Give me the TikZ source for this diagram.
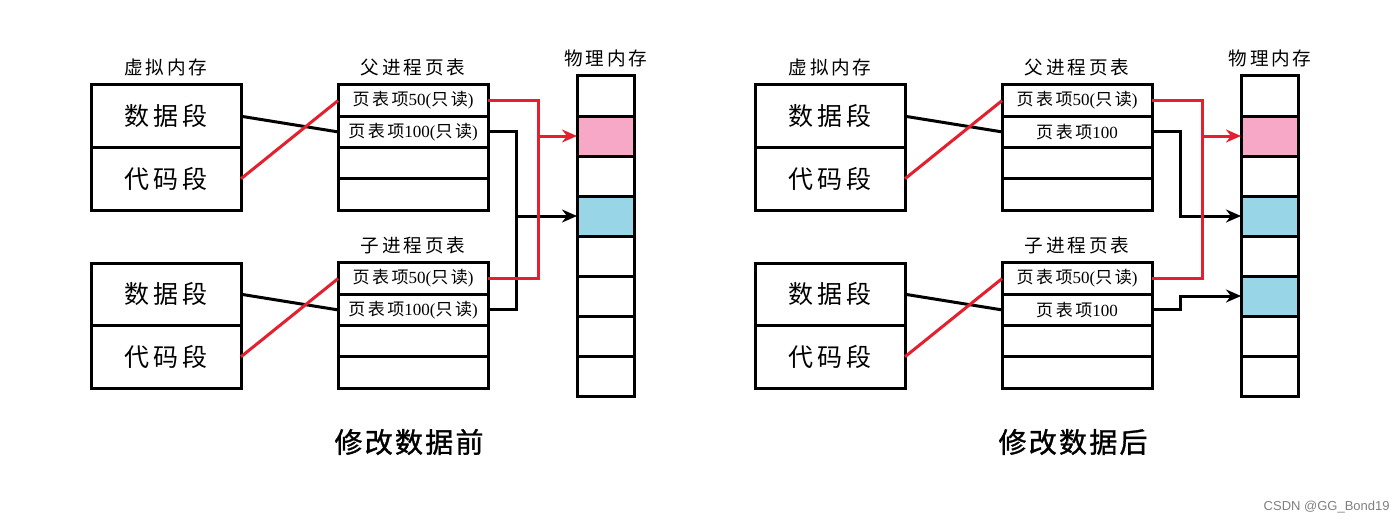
\documentclass[tikz,border=0pt]{standalone}
\usepackage{fontspec}
\setmainfont{Liberation Serif}
\newfontfamily\cjk[LetterSpace=15]{Noto Sans CJK SC}
\newfontfamily\cjkcap[LetterSpace=8,FakeBold=1.2]{Noto Sans CJK SC}
\newfontfamily\wmfont{Liberation Sans}
\usetikzlibrary{arrows.meta}
\definecolor{linered}{HTML}{E5202E}
\definecolor{pagepink}{HTML}{F7A8C6}
\definecolor{pageblue}{HTML}{98D5E6}
\tikzset{
  cell/.style={draw, line width=1.5pt, inner sep=0pt, outer sep=0pt, minimum width=75pt, minimum height=31.25pt, font=\cjk\fontsize{12.5}{13}\selectfont},
  ptrow/.style={draw, line width=1.5pt, inner sep=0pt, outer sep=0pt, minimum width=75pt, minimum height=15.625pt, font=\fontsize{8.5}{9}\selectfont},
  pcell/.style={draw, line width=1.5pt, inner sep=0pt, outer sep=0pt, minimum width=28.5pt, minimum height=20pt},
  title/.style={font=\cjk\fontsize{9.3}{10}\selectfont, inner sep=0pt},
  caption/.style={font=\cjkcap\fontsize{14}{15}\selectfont, inner sep=0pt},
  link/.style={line width=1.5pt},
  redlink/.style={link, draw=linered},
  arrowto/.style={-{Stealth[length=7.5pt,width=6.5pt]}},
}
% #1 prefix, #2 parent row2 text, #3 child row2 text, #4 style of pm6, #5 caption
\newcommand\panelboxes[5]{%
  \node[title] (#1tv) at (166,67) {虚拟内存};
  \node[cell] (#1vm1) at (166,116.25) {数据段};
  \node[cell] (#1vm2) at (166,178.75) {代码段};
  \node[cell] (#1vc1) at (166,294.25) {数据段};
  \node[cell] (#1vc2) at (166,356.75) {代码段};
  \node[title] (#1tp) at (413,67) {父进程页表};
  \node[ptrow] (#1pp1) at (413,100.6) {{\cjk 页表项}50({\cjk 只读})};
  \node[ptrow] (#1pp2) at (413,131.9) {#2};
  \node[ptrow] (#1pp3) at (413,163.1) {};
  \node[ptrow] (#1pp4) at (413,194.4) {};
  \node[title] (#1tc) at (413,245) {子进程页表};
  \node[ptrow] (#1pc1) at (413,278.6) {{\cjk 页表项}50({\cjk 只读})};
  \node[ptrow] (#1pc2) at (413,309.9) {#3};
  \node[ptrow] (#1pc3) at (413,341.1) {};
  \node[ptrow] (#1pc4) at (413,372.4) {};
  \node[title] (#1tm) at (606,58) {物理内存};
  \node[pcell] (#1pm1) at (605.5,96) {};
  \node[pcell, fill=pagepink] (#1pm2) at (605.5,136) {};
  \node[pcell] (#1pm3) at (605.5,176) {};
  \node[pcell, fill=pageblue] (#1pm4) at (605.5,216) {};
  \node[pcell] (#1pm5) at (605.5,256) {};
  \node[pcell, #4] (#1pm6) at (605.5,296) {};
  \node[pcell] (#1pm7) at (605.5,336) {};
  \node[pcell] (#1pm8) at (605.5,376) {};
  \node[caption] (#1cap) at (409,442) {#5};
  \coordinate (#1rbus) at (538,0);
  \coordinate (#1kbus) at (516,0);
  \draw[link] (#1vm1.east) -- (#1pp2.west);
  \draw[redlink] (#1vm2.east) -- (#1pp1.west);
  \draw[link] (#1vc1.east) -- (#1pc2.west);
  \draw[redlink] (#1vc2.east) -- (#1pc1.west);
}
\newcommand\redroute[1]{%
  \draw[redlink] (#1pp1.east) -- (#1pp1.east -| #1rbus) -- (#1pc1.east -| #1rbus) -- (#1pc1.east);
  \draw[redlink, arrowto] (#1pm2.west -| #1rbus) -- (#1pm2.west);
}
\begin{document}
\begin{tikzpicture}[x=0.5pt, y=-0.5pt]
  \useasboundingbox (0,0) rectangle (1400,524);
  \panelboxes{L}{{\cjk 页表项}100({\cjk 只读})}{{\cjk 页表项}100({\cjk 只读})}{}{修改数据前}
  \draw[link] (Lpp2.east) -- (Lpp2.east -| Lkbus) -- (Lpc2.east -| Lkbus) -- (Lpc2.east);
  \draw[link, arrowto] (Lpm4.west -| Lkbus) -- (Lpm4.west);
  \redroute{L}
  \begin{scope}[xshift=332pt]
    \panelboxes{R}{{\cjk 页表项}100}{{\cjk 页表项}100}{fill=pageblue}{修改数据后}
    \draw[link, arrowto] (Rpp2.east) -- (Rpp2.east -| Rkbus) |- (Rpm4.west);
    \draw[link, arrowto] (Rpc2.east) -- (Rpc2.east -| Rkbus) |- (Rpm6.west);
    \redroute{R}
  \end{scope}
  \node[font=\wmfont\fontsize{6.5}{7}\selectfont, text=gray, anchor=east, inner sep=0pt] (wm) at (1390,507) {CSDN @GG\_Bond19};
\end{tikzpicture}
\end{document}
